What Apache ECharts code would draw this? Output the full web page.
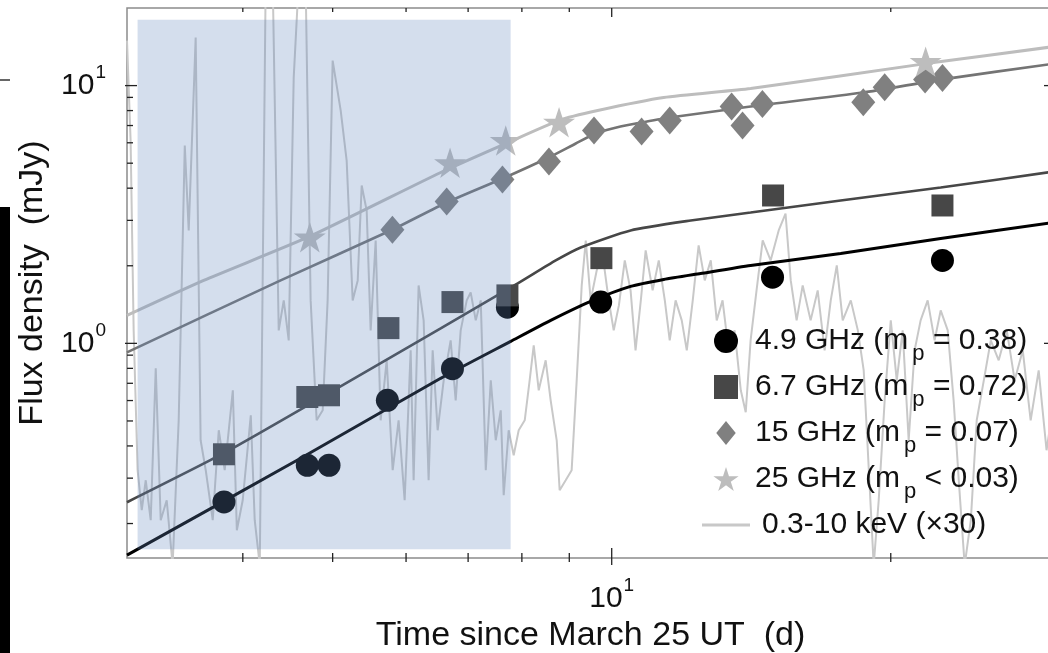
<!DOCTYPE html>
<html><head><meta charset="utf-8">
<script src="https://cdn.jsdelivr.net/npm/echarts@6/dist/echarts.min.js"></script>
<style>html,body{margin:0;padding:0;background:#fff}#c{width:1048px;height:653px}</style>
</head><body><div id="c"></div>
<script>
// ---------- data (days since March 25 UT, flux density in mJy) ----------
const circles49 = [[3.817,0.2426],[4.695,0.3366],[4.955,0.3366],[5.728,0.6013],[6.733,0.7977],[7.718,1.382],[9.730,1.446],[14.91,1.807],[22.74,2.098]];
const squares67 = [[3.817,0.3713],[4.695,0.6193],[4.955,0.6289],[5.743,1.146],[6.733,1.446],[7.718,1.535],[9.747,2.141],[14.93,3.747],[22.74,3.427]];
const diamonds15 = [[5.800,2.758],[6.637,3.551],[7.623,4.321],[8.556,5.075],[9.570,6.69],[10.77,6.63],[11.55,7.315],[13.47,8.293],[13.84,6.998],[14.54,8.49],[18.68,8.617],[19.70,9.85],[21.78,10.55],[22.74,10.71]];
const stars25 = [[4.724,2.582],[6.693,5.016],[7.686,6.12],[8.774,7.206],[21.81,12.39]];

const fit49 = [[3.0,0.1508],[4.618,0.3583],[6.539,0.7318],[7.781,1.018],[8.594,1.228],[9.491,1.455],[10.48,1.663],[11.38,1.770],[12.47,1.867],[14.12,2.006],[17.66,2.233],[22.64,2.553],[30.0,2.944]];
const fit67 = [[3.0,0.2419],[3.814,0.3748],[5.077,0.6752],[6.539,1.143],[7.918,1.708],[8.702,2.098],[9.260,2.356],[10.48,2.742],[12.17,2.997],[14.12,3.219],[17.66,3.583],[22.64,4.024],[30.0,4.642]];
const fit15 = [[3.0,0.9228],[4.394,1.755],[5.805,2.766],[6.637,3.520],[7.628,4.360],[8.551,5.260],[9.146,5.960],[9.610,6.516],[10.22,6.937],[10.77,7.189],[11.55,7.516],[14.12,8.292],[18.66,9.395],[22.64,10.55],[30.0,12.17]];
const fit25 = [[3.0,1.284],[3.630,1.755],[4.722,2.598],[6.539,4.601],[7.686,5.960],[8.767,7.318],[9.658,8.000],[11.38,8.985],[14.12,9.736],[21.82,12.17],[30.0,14.17]];

const xrayDays = [3.0,3.027,3.050,3.080,3.112,3.143,3.182,3.222,3.262,3.311,3.360,3.411,3.463,3.497,3.558,3.602,3.648,3.712,3.768,3.824,3.902,3.941,3.999,4.080,4.120,4.172,4.234,4.308,4.373,4.428,4.483,4.539,4.596,4.675,4.734,4.805,4.878,4.938,5.000,5.101,5.177,5.255,5.321,5.374,5.441,5.495,5.564,5.633,5.718,5.804,5.890,5.979,6.069,6.114,6.190,6.268,6.346,6.410,6.490,6.588,6.703,6.787,6.872,6.976,7.045,7.134,7.223,7.314,7.405,7.497,7.591,7.647,7.742,7.839,7.937,8.057,8.156,8.239,8.342,8.487,8.593,8.723,8.787,8.920,9.053,9.167,9.282,9.376,9.491,9.634,9.779,9.926,10.05,10.18,10.33,10.48,10.61,10.75,10.88,11.07,11.24,11.41,11.55,11.72,11.90,12.05,12.23,12.41,12.60,12.79,12.98,13.17,13.37,13.57,13.78,13.95,14.12,14.33,14.55,14.84,15.14,15.40,15.60,15.83,16.07,16.39,16.68,16.97,17.23,17.49,17.75,18.11,18.43,18.70,18.94,19.17,19.41,19.70,20.00,20.30,20.60,20.91,21.22,21.54,21.92,22.30,22.64,23.04,23.38,23.68,24.03,24.40,24.76,25.20,25.64,26.15,26.68,27.21,27.76,28.31,28.88,29.45,30.0];
const xrayFlux = [14.94,6.12,1.123,0.322,0.2253,0.2944,0.206,0.800,0.206,0.2463,0.1379,0.503,5.854,2.742,15.35,0.4207,0.322,0.206,0.4601,0.322,0.6575,0.1884,0.2463,0.5259,0.206,0.1379,25.5,25.5,1.123,1.468,1.027,10.74,25.5,25.5,1.468,0.503,0.5499,1.468,12.50,8.000,5.121,1.468,1.755,4.097,3.277,1.123,2.507,0.503,0.8593,0.322,0.503,0.2463,0.9395,0.2944,1.678,1.228,0.2944,0.9395,0.4601,0.7186,1.027,0.6013,1.123,1.468,1.576,1.228,1.468,0.322,0.7186,0.4207,0.5499,0.2575,0.4601,0.368,0.4601,0.503,0.7186,0.982,0.6575,0.8593,0.6013,0.4207,0.2693,0.2944,0.322,0.7186,1.678,2.507,1.468,1.918,2.193,1.468,1.123,1.404,2.098,1.605,0.9395,1.468,2.293,1.605,2.098,1.468,1.027,1.468,1.228,0.9395,1.468,2.398,1.755,2.098,1.228,1.468,0.9395,1.123,0.6575,0.5402,1.027,1.605,2.507,2.098,2.742,3.190,1.755,1.228,1.678,1.228,1.605,0.9395,1.468,2.006,1.228,1.468,1.123,0.7857,0.322,0.1379,0.2463,0.6013,1.228,0.7186,1.123,0.4207,0.9395,1.228,1.468,1.027,1.342,1.123,0.6013,0.2944,0.1379,0.206,0.503,0.7186,1.027,0.8593,1.123,0.7186,0.9395,0.503,0.7857,0.3848,0.6013];

const shadeDays = [3.08, 7.78];
const shadeFlux = [0.159, 18.0];

const xMin = 3.0, xMax = 30.0, yMin = 0.147, yMax = 20.0;
const xTickDays = [4,5,6,7,8,9,10,20,30];
const xMajorDays = [10];
const yTickFlux = [0.2,0.3,0.4,0.5,0.6,0.7,0.8,0.9,1,2,3,4,5,6,7,8,9,10];
const yMajorFlux = [1,10];
const xLabelValues = [10];
const xLabelTexts = ['10^1'];
const yLabelValues = [1,10];
const yLabelTexts = ['10^0','10^1'];

const seriesNames = ['4.9 GHz','6.7 GHz','15 GHz','25 GHz','0.3-10 keV (\u00d730)'];
const mpTexts = ['= 0.38','= 0.72','= 0.07','< 0.03'];

// ---------- styling ----------
const FONT = '"Liberation Sans", Arial, Helvetica, sans-serif';
const STAR = 'path://M10 0 L12.245 6.91 L19.511 6.91 L13.633 11.18 L15.878 18.09 L10 13.82 L4.122 18.09 L6.367 11.18 L0.489 6.91 L7.755 6.91 Z';
const LINE_ICON = 'path://M0 0 L48 0 L48 3 L0 3 Z';
const SQUARE_ICON = 'path://M0 0 L10 0 L10 10 L0 10 Z';
const DIAMOND_ICON = 'path://M11 0 L22 13.5 L11 27 L0 13.5 Z';
const legendIcons = ['circle', SQUARE_ICON, DIAMOND_ICON, STAR, LINE_ICON];

function pow10Label(values, texts) {
  return function (v) {
    for (let i = 0; i < values.length; i++) {
      if (Math.abs(Math.log10(v) - Math.log10(values[i])) < 1e-6) {
        const parts = texts[i].split('^');
        return '{b|' + parts[0] + '}{s|' + parts[1] + '}';
      }
    }
    return '';
  };
}
const tickRich = {
  b: {fontSize: 30, fontFamily: FONT, color: '#111'},
  s: {fontSize: 19, fontFamily: FONT, color: '#111', padding: [0, 0, 26, 1]}
};

function tickSeries(axis, data) {
  return {
    type: 'custom', silent: true, z: 12, clip: false, data: data,
    renderItem: function (params, api) {
      const cs = params.coordSys;
      const major = api.value(2) === 1;
      const st = {stroke: '#222', lineWidth: 1.3};
      if (axis === 'x') {
        const p = api.coord([api.value(0), api.value(1)])[0];
        const bot = cs.y + cs.height, top = cs.y;
        return {type: 'group', children: [
          {type: 'line', shape: {x1: p, y1: bot - (major ? 10 : 5), x2: p, y2: bot + (major ? 7 : 4)}, style: st},
          {type: 'line', shape: {x1: p, y1: top, x2: p, y2: top + (major ? 9 : 4)}, style: st}
        ]};
      } else {
        const p = api.coord([api.value(0), api.value(1)])[1];
        const l = cs.x, r = cs.x + cs.width;
        return {type: 'group', children: [
          {type: 'line', shape: {x1: l - (major ? 2 : 0), y1: p, x2: l + (major ? 10 : 6), y2: p}, style: st},
          {type: 'line', shape: {x1: r - (major ? 10 : 6), y1: p, x2: r, y2: p}, style: st}
        ]};
      }
    }
  };
}

function fitLine(data, color, width) {
  return {type: 'line', data: data, symbol: 'none', smooth: 0.2, silent: true, z: 3,
          lineStyle: {color: color, width: width}};
}

const chart = echarts.init(document.getElementById('c'), null, {renderer: 'canvas'});
chart.setOption({
  animation: false,
  backgroundColor: '#fff',
  grid: {left: 127, right: -6, top: 8, bottom: 95, outerBoundsMode: 'none', containLabel: false,
         show: true, borderColor: '#8c8c8c', borderWidth: 1.5},
  xAxis: {
    type: 'log', logBase: 10, min: xMin, max: xMax,
    axisLine: {show: false}, axisTick: {show: false}, splitLine: {show: false},
    axisLabel: {formatter: pow10Label(xLabelValues, xLabelTexts), margin: 18, rich: tickRich, fontSize: 30, fontFamily: FONT, color: '#111'},
    name: 'Time since March 25 UT  (d)', nameLocation: 'middle', nameGap: 54,
    nameTextStyle: {fontSize: 34, fontFamily: FONT, color: '#111'}
  },
  yAxis: {
    type: 'log', logBase: 10, min: yMin, max: yMax,
    axisLine: {show: false}, axisTick: {show: false}, splitLine: {show: false},
    axisLabel: {formatter: pow10Label(yLabelValues, yLabelTexts), margin: 21, rich: tickRich, fontSize: 30, fontFamily: FONT, color: '#111'},
    name: 'Flux density  (mJy)', nameLocation: 'middle', nameGap: 77,
    nameTextStyle: {fontSize: 34, fontFamily: FONT, color: '#111'}
  },
  legend: {
    data: seriesNames.map((n, i) => ({name: n, icon: legendIcons[i]})),
    orient: 'vertical', left: 702, top: 326, itemGap: 7, padding: 0,
    itemWidth: 48, itemHeight: 24, selectedMode: false, symbolKeepAspect: true,
    textStyle: {fontFamily: FONT, fontSize: 30, color: '#111',
      rich: {
        t: {fontFamily: FONT, fontSize: 30, color: '#111'},
        sub: {fontFamily: FONT, fontSize: 22, color: '#111', padding: [26, 0, 0, 4]},
        x: {fontFamily: FONT, fontSize: 30, color: '#111', padding: [0, 0, 0, 7]}
      }},
    formatter: function (name) {
      const i = seriesNames.indexOf(name);
      if (i >= 0 && i < mpTexts.length) return '{t|' + name + ' (m}{sub|p}{t| ' + mpTexts[i] + ')}';
      return '{x|' + name + '}';
    }
  },
  graphic: [
    {type: 'rect', shape: {x: 0, y: 207, width: 10, height: 446}, style: {fill: '#000'}},
    {type: 'line', shape: {x1: 0, y1: 80, x2: 10, y2: 80}, style: {stroke: '#333', lineWidth: 1.5}}
  ],
  series: [
    {name: seriesNames[4], type: 'line', symbol: 'none', z: 1, silent: true, clip: true,
     data: xrayDays.map((d, i) => [d, xrayFlux[i]]),
     lineStyle: {color: '#c8c8c8', width: 2}, itemStyle: {color: '#c8c8c8'}},
    fitLine(fit25, '#bdbdbd', 3),
    fitLine(fit15, '#747474', 2.6),
    fitLine(fit67, '#474747', 2.6),
    fitLine(fit49, '#000000', 3),
    {name: seriesNames[0], type: 'scatter', data: circles49, symbol: 'circle', symbolSize: 23, z: 4,
     itemStyle: {color: '#000', opacity: 1}},
    {name: seriesNames[1], type: 'scatter', data: squares67, symbol: 'rect', symbolSize: 22, z: 4,
     itemStyle: {color: '#474747', opacity: 1}},
    {name: seriesNames[2], type: 'scatter', data: diamonds15, symbol: 'diamond', symbolSize: [24, 28], z: 4,
     itemStyle: {color: '#808080', opacity: 1}},
    {name: seriesNames[3], type: 'scatter', data: stars25, symbol: STAR, symbolSize: 32, z: 4,
     symbolKeepAspect: true, itemStyle: {color: '#bdbdbd', opacity: 1}},
    {type: 'custom', z: 10, silent: true, clip: false,
     data: [[shadeDays[0], shadeFlux[0], shadeDays[1], shadeFlux[1]]],
     encode: {x: [0, 2], y: [1, 3]},
     renderItem: function (params, api) {
       const p0 = api.coord([api.value(0), api.value(1)]);
       const p1 = api.coord([api.value(2), api.value(3)]);
       return {type: 'rect', shape: {x: p0[0], y: p1[1], width: p1[0] - p0[0], height: p0[1] - p1[1]},
               style: {fill: 'rgba(100,135,190,0.28)'}};
     }},
    tickSeries('x', xTickDays.map(v => [v, 1, xMajorDays.indexOf(v) >= 0 ? 1 : 0])),
    tickSeries('y', yTickFlux.map(v => [5, v, yMajorFlux.indexOf(v) >= 0 ? 1 : 0]))
  ]
});
</script></body></html>
